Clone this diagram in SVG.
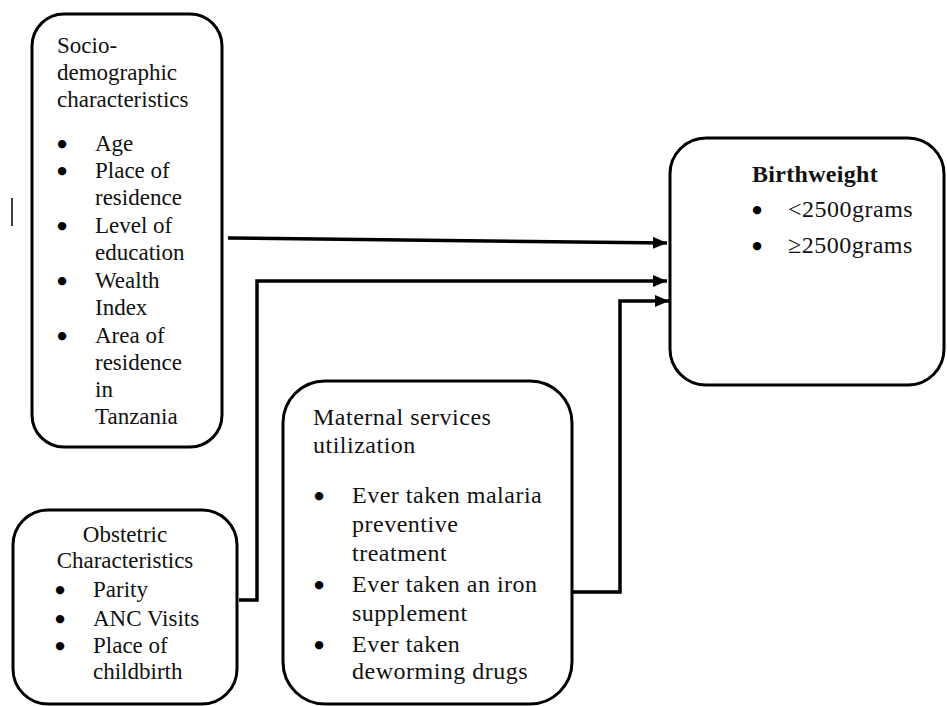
<svg xmlns="http://www.w3.org/2000/svg" width="947" height="706" viewBox="0 0 947 706">
<defs>
<style>
.box{fill:#fff;stroke:#000;stroke-width:3}
.t{font-family:"Liberation Serif","Times New Roman",serif;font-size:23px;fill:#111}
.t24{font-family:"Liberation Serif","Times New Roman",serif;font-size:24px;fill:#111;letter-spacing:0.5px}
.b{font-weight:bold;letter-spacing:0.3px}
.bul{font-family:"DejaVu Sans",sans-serif;font-size:11px;fill:#000;text-anchor:middle}
.conn{fill:none;stroke:#000;stroke-width:3.5}
</style>
<marker id="ah" markerUnits="userSpaceOnUse" markerWidth="14" markerHeight="12" refX="14" refY="6" orient="auto">
<path d="M0,0 L14,6 L0,12 Z" fill="#000"/>
</marker>
</defs>
<rect width="947" height="706" fill="#fff"/>
<line x1="12" y1="198" x2="12" y2="226" stroke="#000" stroke-width="1.5"/>
<g id="connectors">
<path class="conn" d="M228,238 L667,243" marker-end="url(#ah)"/>
<path class="conn" d="M239,600 L257,600 L257,281 L667,281" marker-end="url(#ah)"/>
<path class="conn" d="M572,592 L620,592 L620,301 L669,301" marker-end="url(#ah)"/>
</g>
<g id="socio">
<rect class="box" x="32" y="14" width="190" height="433" rx="32"/>
<text class="t" x="57" y="53">Socio-</text>
<text class="t" x="57" y="80">demographic</text>
<text class="t" x="57" y="107">characteristics</text>
<text class="bul" x="62" y="147">●</text>
<text class="t" x="95" y="151">Age</text>
<text class="bul" x="62" y="174">●</text>
<text class="t" x="95" y="178">Place of</text>
<text class="t" x="95" y="205">residence</text>
<text class="bul" x="62" y="229">●</text>
<text class="t" x="95" y="233">Level of</text>
<text class="t" x="95" y="260">education</text>
<text class="bul" x="62" y="284">●</text>
<text class="t" x="95" y="288">Wealth</text>
<text class="t" x="95" y="315">Index</text>
<text class="bul" x="62" y="339">●</text>
<text class="t" x="95" y="343">Area of</text>
<text class="t" x="95" y="370">residence</text>
<text class="t" x="95" y="397">in</text>
<text class="t" x="95" y="424">Tanzania</text>
</g>
<g id="birthweight">
<rect class="box" x="670" y="138" width="274" height="247" rx="36"/>
<text class="t24 b" x="752" y="182">Birthweight</text>
<text class="bul" x="757" y="213">●</text>
<text class="t24" x="788" y="217">&lt;2500grams</text>
<text class="bul" x="757" y="249">●</text>
<text class="t24" x="788" y="253">≥2500grams</text>
</g>
<g id="maternal">
<rect class="box" x="283" y="381" width="289" height="323" rx="42"/>
<text class="t24" x="313" y="425">Maternal services</text>
<text class="t24" x="313" y="453">utilization</text>
<text class="bul" x="319" y="499">●</text>
<text class="t24" x="352" y="503">Ever taken malaria</text>
<text class="t24" x="352" y="532">preventive</text>
<text class="t24" x="352" y="561">treatment</text>
<text class="bul" x="319" y="588">●</text>
<text class="t24" x="352" y="592">Ever taken an iron</text>
<text class="t24" x="352" y="621">supplement</text>
<text class="bul" x="319" y="648">●</text>
<text class="t24" x="352" y="652">Ever taken</text>
<text class="t24" x="352" y="679">deworming drugs</text>
</g>
<g id="obstetric">
<rect class="box" x="13" y="510" width="224" height="194" rx="35"/>
<text class="t" x="125" y="542" text-anchor="middle">Obstetric</text>
<text class="t" x="125" y="568" text-anchor="middle">Characteristics</text>
<text class="bul" x="60" y="593">●</text>
<text class="t" x="93" y="597">Parity</text>
<text class="bul" x="60" y="622">●</text>
<text class="t" x="93" y="626">ANC Visits</text>
<text class="bul" x="60" y="649">●</text>
<text class="t" x="93" y="653">Place of</text>
<text class="t" x="93" y="679">childbirth</text>
</g>
</svg>
